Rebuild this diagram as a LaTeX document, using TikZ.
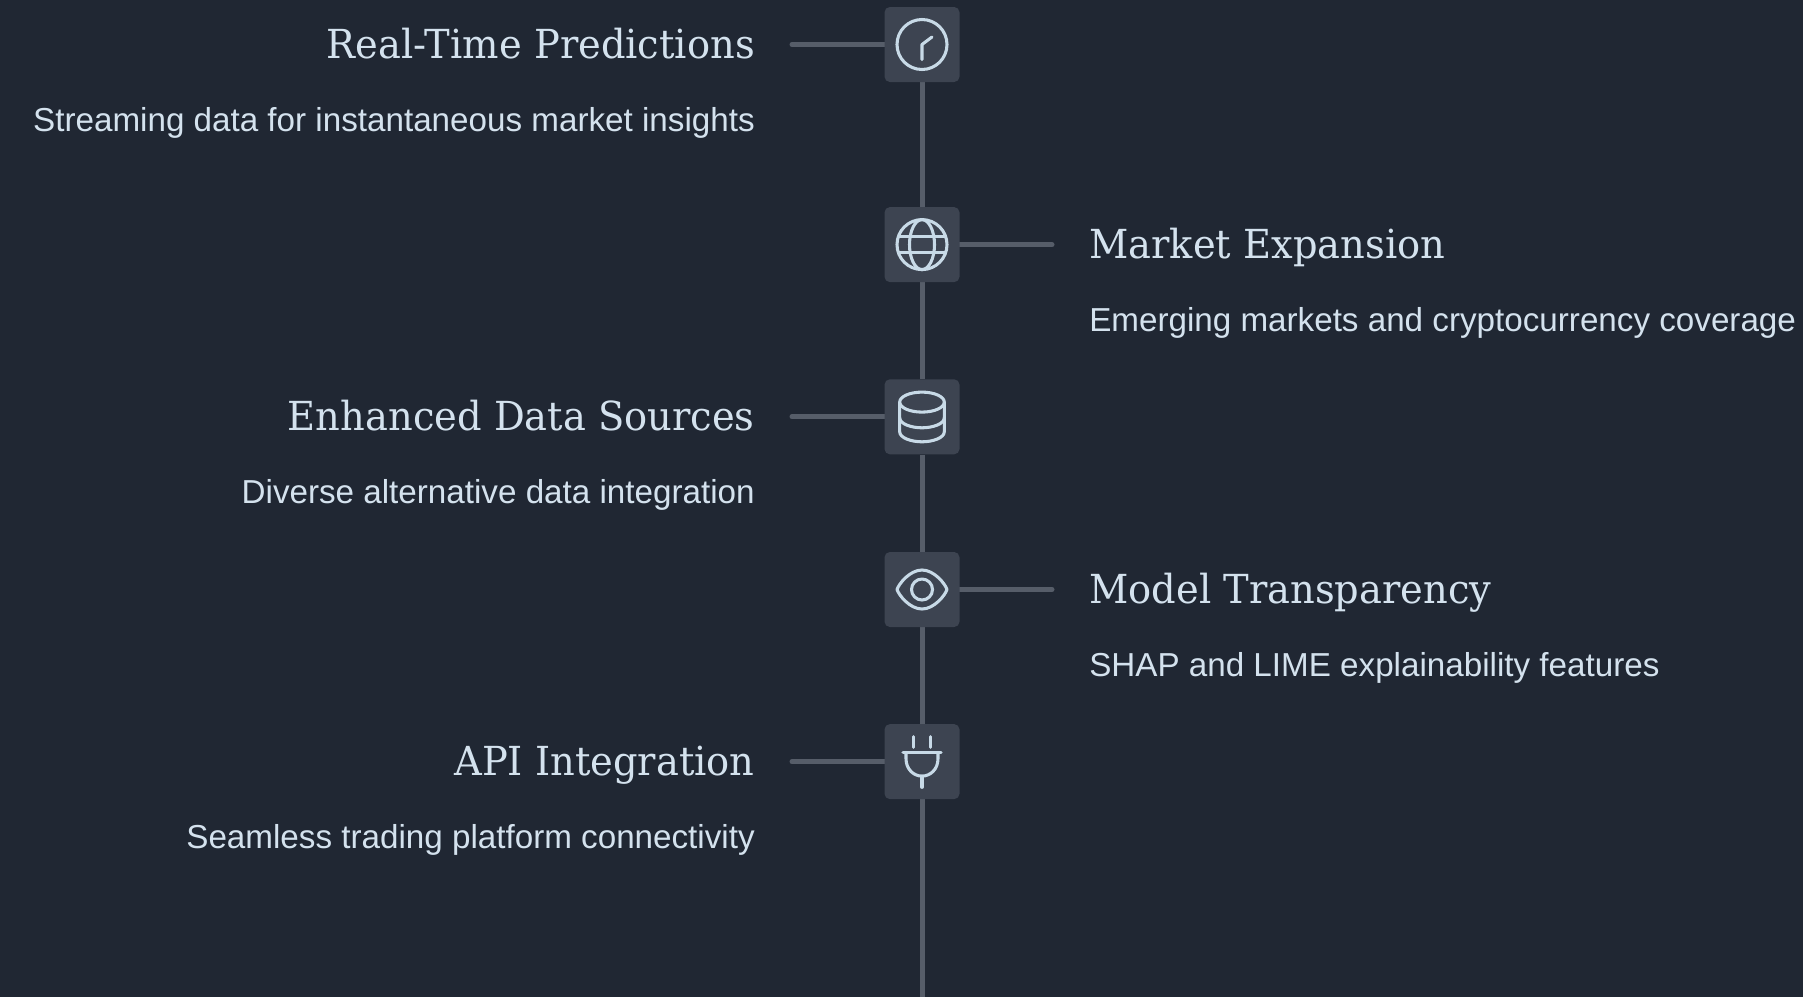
\documentclass[tikz,border=0pt]{standalone}
\usepackage{fontspec}
\setmainfont{Liberation Sans}
\newfontfamily\slabfont[FakeStretch=0.96]{DejaVu Serif}
\usetikzlibrary{backgrounds}
\definecolor{dfbg}{RGB}{32,39,51}
\definecolor{dfbox}{RGB}{61,68,81}
\definecolor{dfline}{RGB}{86,93,105}
\definecolor{dftext}{RGB}{212,226,238}
\definecolor{dficon}{RGB}{200,218,231}
\tikzstyle{iconbox} = [rectangle, rounded corners=4pt, minimum size=56.25pt, inner sep=0pt, fill=dfbox]
\tikzstyle{stem} = [line width=3.75pt, color=dfline]
\tikzstyle{branch} = [stem, line cap=round]
\tikzstyle{icon} = [line width=2.3pt, color=dficon, line cap=round, line join=round]
\tikzstyle{heading} = [inner sep=0pt, text=dftext, font=\slabfont\fontsize{30}{36}\selectfont]
\tikzstyle{blurb} = [inner sep=0pt, text=dftext, font=\fontsize{24.9}{30}\selectfont]
\begin{document}
\begin{tikzpicture}[x=0.75pt,y=-0.75pt]
\useasboundingbox (0,0) rectangle (1803,997);

% Boxes
\node[iconbox] (clockbox) at (922,44.5) {};
\node[iconbox] (globebox) at (922,244.6) {};
\node[iconbox] (databox) at (922,416.8) {};
\node[iconbox] (eyebox) at (922,589.5) {};
\node[iconbox] (plugbox) at (922,761.6) {};

% Free ends
\coordinate (clockend) at (792,44.5);
\coordinate (globeend) at (1052,244.6);
\coordinate (dataend) at (792,416.8);
\coordinate (eyeend) at (1052,589.5);
\coordinate (plugend) at (792,761.6);
\coordinate (bottomend) at (922,997);

% Connectors
\begin{pgfonlayer}{background}
\fill[dfbg] (0,0) rectangle (1803,997);
\draw[stem] (clockbox) -- (globebox);
\draw[stem] (globebox) -- (databox);
\draw[stem] (databox) -- (eyebox);
\draw[stem] (eyebox) -- (plugbox);
\draw[stem] (plugbox) -- (bottomend);
\draw[branch] (clockbox.center) -- (clockend);
\draw[branch] (globebox.center) -- (globeend);
\draw[branch] (databox.center) -- (dataend);
\draw[branch] (eyebox.center) -- (eyeend);
\draw[branch] (plugbox.center) -- (plugend);
\end{pgfonlayer}

% Clock
\begin{scope}[shift={(clockbox.center)}]
\draw[icon] (0,0) circle [radius=25*0.75pt];
\draw[icon] (0,15) -- (0,0) -- (10,-7.5);
\end{scope}

% Globe
\begin{scope}[shift={(globebox.center)}]
\draw[icon] (0,0) circle [radius=25*0.75pt];
\draw[icon] (0,0) ellipse [x radius=12.5*0.75pt, y radius=25*0.75pt];
\draw[icon] (-23.7,-8) -- (23.7,-8);
\draw[icon] (-23.7,8) -- (23.7,8);
\end{scope}

% Database
\begin{scope}[shift={(databox.center)}]
\draw[icon] (0,-14.7) ellipse [x radius=22.3*0.75pt, y radius=10*0.75pt];
\draw[icon] (-22.3,-14.7) -- (-22.3,15) .. controls (-22.3,21) and (-11,25) .. (0,25) .. controls (11,25) and (22.3,21) .. (22.3,15) -- (22.3,-14.7);
\draw[icon] (-22.3,1) .. controls (-22.3,7) and (-11,11) .. (0,11) .. controls (11,11) and (22.3,7) .. (22.3,1);
\end{scope}

% Eye
\begin{scope}[shift={(eyebox.center)}]
\draw[icon] (-25,0) .. controls (-23,-6) and (-12,-19.5) .. (0,-19.5) .. controls (12,-19.5) and (23,-6) .. (25,0) .. controls (23,6) and (12,19.5) .. (0,19.5) .. controls (-12,19.5) and (-23,6) .. cycle;
\draw[icon] (0,0) circle [radius=10.5*0.75pt];
\end{scope}

% Plug
\begin{scope}[shift={(plugbox.center)}]
\draw[icon] (-8.3,-25) -- (-8.3,-14.3);
\draw[icon] (8.3,-25) -- (8.3,-14.3);
\draw[icon] (-19,-9.3) -- (19,-9.3);
\draw[icon] (-16,-9.3) -- (-16,-3) .. controls (-16,8) and (-8,14.5) .. (0,14.5) .. controls (8,14.5) and (16,8) .. (16,-3) -- (16,-9.3);
\draw[icon] (0,14.5) -- (0,25.7);
\end{scope}

% Left texts
\node[heading, anchor=base east] (clocktitle) at (755,58.3) {Real-Time Predictions};
\node[blurb, anchor=base east] (clocktext) at (755,131.7) {Streaming data for instantaneous market insights};
\node[heading, anchor=base east] (datatitle) at (755,430.8) {Enhanced Data Sources};
\node[blurb, anchor=base east] (datatext) at (755,503.9) {Diverse alternative data integration};
\node[heading, anchor=base east] (plugtitle) at (755,775.6) {API Integration};
\node[blurb, anchor=base east] (plugtext) at (755,848.8) {Seamless trading platform connectivity};

% Right texts
\node[heading, anchor=base west] (globetitle) at (1089,258.6) {Market Expansion};
\node[blurb, anchor=base west] (globetext) at (1089,331.8) {Emerging markets and cryptocurrency coverage};
\node[heading, anchor=base west] (eyetitle) at (1089,603.5) {Model Transparency};
\node[blurb, anchor=base west] (eyetext) at (1089,676.7) {SHAP and LIME explainability features};
\end{tikzpicture}
\end{document}
